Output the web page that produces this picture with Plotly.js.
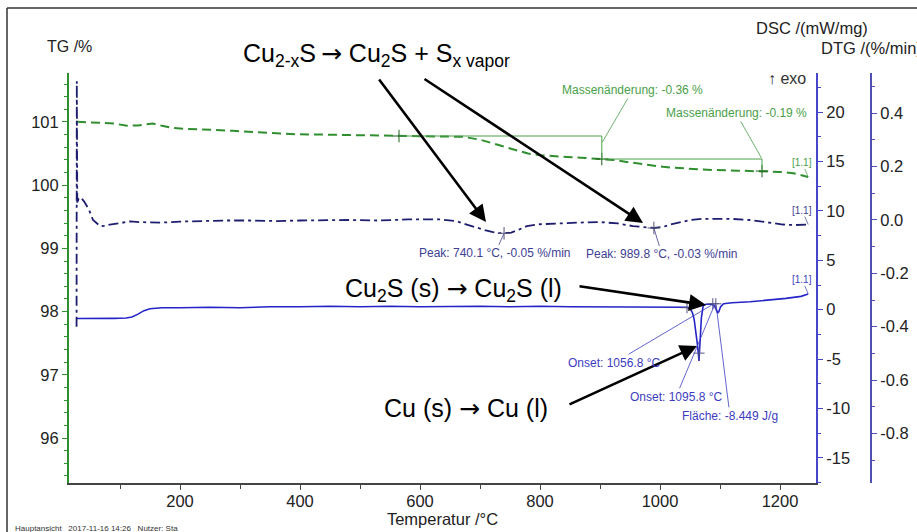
<!DOCTYPE html>
<html><head><meta charset="utf-8">
<script src="https://cdn.plot.ly/plotly-3.0.1.min.js"></script>
<style>html,body{margin:0;padding:0;background:#fff;} #chart{width:917px;height:532px;}</style>
</head><body><div id="chart"></div>
<script>
// ---------- data ----------
const temperatureTG = [28.3, 45, 66.7, 90, 111.7, 130, 145, 155, 170, 188, 210, 233, 260, 288, 315, 345, 370, 395, 440, 483, 525, 565, 610, 650, 672, 700, 728, 755, 780, 800, 825, 845, 875, 903, 922, 950, 978, 1005, 1033, 1060, 1088, 1130, 1170, 1200, 1222, 1247];
const tgValues = [101.005, 101.0, 100.99, 100.975, 100.94, 100.945, 100.965, 100.975, 100.94, 100.905, 100.89, 100.885, 100.875, 100.86, 100.85, 100.83, 100.815, 100.805, 100.8, 100.795, 100.79, 100.78, 100.78, 100.775, 100.765, 100.72, 100.64, 100.56, 100.5, 100.475, 100.455, 100.445, 100.43, 100.415, 100.4, 100.36, 100.32, 100.29, 100.27, 100.25, 100.24, 100.23, 100.225, 100.21, 100.19, 100.13];

const temperatureDTG = [27.6, 28.0, 28.8, 31, 34.5, 40, 48, 55, 62, 67, 75, 83, 100, 117, 133, 167, 200, 233, 275, 317, 360, 400, 450, 483, 530, 580, 633, 660, 678, 695, 708, 720, 730, 740, 752, 765, 778, 800, 845, 875, 900, 930, 955, 975, 990, 1005, 1017, 1035, 1050, 1070, 1095, 1120, 1150, 1180, 1205, 1225, 1247];
const dtgValues = [-0.40, 0.52, 0.06, 0.08, 0.085, 0.07, 0.04, 0.0, -0.015, -0.023, -0.022, -0.017, -0.012, -0.005, -0.008, -0.01, -0.006, -0.004, -0.002, -0.002, -0.004, -0.002, 0.0, 0.0, -0.002, 0.002, 0.002, -0.004, -0.017, -0.03, -0.038, -0.045, -0.049, -0.05, -0.047, -0.036, -0.023, -0.016, -0.011, -0.009, -0.008, -0.013, -0.023, -0.028, -0.03, -0.026, -0.017, -0.008, 0.0, 0.004, 0.005, 0.004, 0.0, -0.008, -0.017, -0.019, -0.017];

const temperatureDSC = [28.3, 50, 67, 90, 110, 120, 130, 140, 150, 170, 200, 250, 300, 350, 400, 450, 500, 550, 600, 650, 700, 750, 800, 850, 900, 950, 1000, 1030, 1045, 1050, 1054, 1057, 1060, 1062.5, 1065, 1067, 1069, 1072, 1076, 1085, 1090, 1093, 1096, 1098, 1101, 1106, 1120, 1150, 1180, 1210, 1235, 1247];
const dscValues = [-0.9, -0.92, -0.9, -0.88, -0.85, -0.75, -0.45, -0.1, 0.1, 0.2, 0.2, 0.25, 0.2, 0.3, 0.3, 0.35, 0.3, 0.35, 0.3, 0.35, 0.35, 0.3, 0.35, 0.3, 0.3, 0.3, 0.3, 0.3, 0.25, 0.1, -0.3, -1.0, -2.2, -3.6, -5.2, -3.2, -0.8, 0.4, 0.55, 0.55, 0.45, 0.1, -0.3, -0.2, 0.3, 0.6, 0.7, 0.8, 0.95, 1.15, 1.35, 1.6];

const xTicks = [200, 400, 600, 800, 1000, 1200];
const tgTicks = [96, 97, 98, 99, 100, 101];
const dscTicks = [-15, -10, -5, 0, 5, 10, 15, 20];
const dscTickText = ['-15', '-10', '-5', '0', '5', '10', '15', '20'];
const dtgTicks = [-0.8, -0.6, -0.4, -0.2, 0.0, 0.2, 0.4];
const dtgTickText = ['-0.8', '-0.6', '-0.4', '-0.2', '0.0', '0.2', '0.4'];

const massStepT = [565, 903, 1170];
const massStepTG = [100.778, 100.414, 100.224];
const massChangeText = ['-0.36', '-0.19'];
const dtgPeakT = [740.1, 989.8];
const dtgPeakVal = [-0.05, -0.03];
const dscOnsetT = ['1056.8', '1095.8'];
const dscAreaText = '-8.449';
const dscMarkT = [1045, 1065, 1088, 1093];
const dscMarkVal = [0.2, -4.4, 0.6, 0.6];

// ---------- styling ----------
const FONT = 'Liberation Sans, Arial, sans-serif';
const GREEN = '#2f8f2f', GREEN_L = '#4aa04a';
const BLUE = '#2424c8', BLUE_L = '#3c3cc0';
const NAVY = '#1e1e70', NAVY_L = '#3e3e94';
const W = 917, H = 532, L = 69, R = 40, T = 73, B = 49;
const PW = W - L - R, PH = H - T - B;
const px = x => (x - L) / PW;
const py = y => (H - B - y) / PH;
const ARROW = '<span style="font-family:DejaVu Sans">→</span>';

const traces = [
  {x: temperatureTG, y: tgValues, xaxis: 'x', yaxis: 'y', mode: 'lines', name: 'TG',
   line: {color: GREEN, width: 2, dash: '9px,5px'}},
  {x: temperatureDTG, y: dtgValues, xaxis: 'x', yaxis: 'y3', mode: 'lines', name: 'DTG',
   line: {color: NAVY, width: 1.8, dash: '10px,4px,3px,4px'}},
  {x: temperatureDSC, y: dscValues, xaxis: 'x', yaxis: 'y2', mode: 'lines', name: 'DSC',
   line: {color: BLUE, width: 1.6}},
  {x: massStepT, y: massStepTG, xaxis: 'x', yaxis: 'y', mode: 'markers', name: 'TG marks',
   marker: {symbol: 'cross-thin', size: 9, line: {color: '#1f5f1f', width: 1}}},
  {x: dtgPeakT, y: dtgPeakVal, xaxis: 'x', yaxis: 'y3', mode: 'markers', name: 'DTG peaks',
   marker: {symbol: 'cross-thin', size: 9, line: {color: '#555577', width: 1}}},
  {x: dscMarkT, y: dscMarkVal, xaxis: 'x', yaxis: 'y2', mode: 'markers', name: 'DSC marks',
   marker: {symbol: 'cross-thin', size: 8, line: {color: '#555588', width: 1}}}
];

const tickFont = {family: FONT, size: 16.5, color: '#222'};

const shapes = [
  {type: 'line', xref: 'paper', yref: 'paper', x0: px(7), x1: px(925), y0: py(8), y1: py(8), line: {color: '#333', width: 1.5}},
  {type: 'line', xref: 'paper', yref: 'paper', x0: px(7), x1: px(7), y0: py(8), y1: py(540), line: {color: '#333', width: 1.5}},
  {type: 'line', xref: 'x', yref: 'y', x0: massStepT[0], x1: massStepT[1], y0: massStepTG[0], y1: massStepTG[0], line: {color: GREEN_L, width: 1}},
  {type: 'line', xref: 'x', yref: 'y', x0: massStepT[1], x1: massStepT[1], y0: massStepTG[0], y1: massStepTG[1], line: {color: GREEN_L, width: 1}},
  {type: 'line', xref: 'x', yref: 'y', x0: massStepT[1], x1: massStepT[2], y0: massStepTG[1], y1: massStepTG[1], line: {color: GREEN_L, width: 1}},
  {type: 'line', xref: 'x', yref: 'y', x0: massStepT[2], x1: massStepT[2], y0: massStepTG[1], y1: massStepTG[2], line: {color: GREEN_L, width: 1}}
];

function bigArrow(tipX, tipY, tailX, tailY) {
  return {xref: 'paper', yref: 'paper', x: px(tipX), y: py(tipY), ax: tailX - tipX, ay: tailY - tipY,
    text: '', showarrow: true, arrowhead: 2, arrowsize: 1.3, arrowwidth: 2.6, arrowcolor: '#000', standoff: 0};
}
function lead(xv, yv, yref, ax, ay, text, color) {
  return {xref: 'x', yref: yref, x: xv, y: yv, ax: ax, ay: ay, text: text, showarrow: true,
    arrowhead: 0, arrowwidth: 0.8, arrowcolor: color, borderpad: 1, standoff: 1,
    font: {family: FONT, size: 12, color: color}};
}
function label(x, y, text, size, color, xanchor) {
  return {xref: 'paper', yref: 'paper', x: px(x), y: py(y), text: text, showarrow: false,
    xanchor: xanchor || 'left', yanchor: 'middle', font: {family: FONT, size: size, color: color}};
}

const annotations = [
  bigArrow(486, 222, 378, 78),
  bigArrow(643, 223, 423, 78),
  bigArrow(706, 305, 578, 286),
  bigArrow(697, 346, 568, 405),
  label(241, 55, 'Cu<sub>2-x</sub>S\u2009' + ARROW + ' Cu<sub>2</sub>S + S<sub>x vapor</sub>', 25, '#000'),
  label(343, 290, 'Cu<sub>2</sub>S (s) ' + ARROW + ' Cu<sub>2</sub>S (l)', 25, '#000'),
  label(382, 408, 'Cu (s) ' + ARROW + ' Cu (l)', 25, '#000'),
  lead(massStepT[1], 100.668, 'y', 31, -53, 'Massenänderung: ' + massChangeText[0] + ' %', GREEN_L),
  lead(massStepT[2], massStepTG[1], 'y', -26, -46, 'Massenänderung: ' + massChangeText[1] + ' %', GREEN_L),
  lead(dtgPeakT[0], dtgPeakVal[0], 'y3', -9, 20, 'Peak: ' + dtgPeakT[0] + ' °C, ' + dtgPeakVal[0].toFixed(2) + ' %/min', NAVY_L),
  lead(dtgPeakT[1], dtgPeakVal[1], 'y3', 8, 26.5, 'Peak: ' + dtgPeakT[1] + ' °C, ' + dtgPeakVal[1].toFixed(2) + ' %/min', NAVY_L),
  lead(1087, 0.5, 'y2', -98, 58, 'Onset: ' + dscOnsetT[0] + ' °C', BLUE_L),
  lead(1091.7, 0.6, 'y2', -39, 93, 'Onset: ' + dscOnsetT[1] + ' °C', BLUE_L),
  lead(1093.3, 0.6, 'y2', 14, 112, 'Fläche: ' + dscAreaText + ' J/g', BLUE_L),
  {xref: 'x', yref: 'y', x: temperatureTG[temperatureTG.length-1], y: tgValues[tgValues.length-1], ax: -6, ay: -14, text: '[1.1]', showarrow: true, arrowhead: 0, arrowwidth: 0.7, arrowcolor: GREEN_L, borderpad: 0, font: {family: FONT, size: 10, color: GREEN_L}},
  {xref: 'x', yref: 'y3', x: temperatureDTG[temperatureDTG.length-1], y: dtgValues[dtgValues.length-1], ax: -6, ay: -14, text: '[1.1]', showarrow: true, arrowhead: 0, arrowwidth: 0.7, arrowcolor: NAVY_L, borderpad: 0, font: {family: FONT, size: 10, color: NAVY_L}},
  {xref: 'x', yref: 'y2', x: temperatureDSC[temperatureDSC.length-1], y: dscValues[dscValues.length-1], ax: -6, ay: -14, text: '[1.1]', showarrow: true, arrowhead: 0, arrowwidth: 0.7, arrowcolor: BLUE_L, borderpad: 0, font: {family: FONT, size: 10, color: BLUE_L}},
  label(808, 78, '↑ exo', 16, '#333', 'right'),
  label(45, 47, 'TG /%', 16, '#222'),
  label(754, 28, 'DSC /(mW/mg)', 16.5, '#222'),
  label(819, 48, 'DTG /(%/min)', 16.5, '#222'),
  label(13, 528, 'Hauptansicht&nbsp;&nbsp;&nbsp;2017-11-16 14:26&nbsp;&nbsp;&nbsp;Nutzer: Sta', 8, '#333')
];

const layout = {
  width: W, height: H, showlegend: false,
  paper_bgcolor: '#fff', plot_bgcolor: 'rgba(0,0,0,0)',
  margin: {l: L, r: R, t: T, b: B, autoexpand: false},
  font: {family: FONT, color: '#222'},
  xaxis: {range: [15, 1260], domain: [0, 747 / PW], tickmode: 'array', tickvals: xTicks,
    ticks: 'outside', ticklen: 5, tickcolor: '#444', showline: true, linecolor: '#444', linewidth: 1.5,
    showgrid: false, zeroline: false, tickfont: tickFont, ticklabelstandoff: -3,
    minor: {dtick: 100, tick0: 0, ticks: 'outside', ticklen: 4, tickcolor: '#444', showgrid: false},
    title: {text: 'Temperatur /°C', font: {family: FONT, size: 16.5, color: '#222'}, standoff: 0}},
  yaxis: {range: [95.288, 101.775], tickmode: 'array', tickvals: tgTicks, ticks: 'outside', ticklen: 5,
    tickcolor: GREEN, showline: true, linecolor: GREEN, linewidth: 2, showgrid: false, zeroline: false,
    tickfont: tickFont, minor: {dtick: 0.2, tick0: 0, ticks: 'outside', ticklen: 3, tickcolor: GREEN, showgrid: false}},
  yaxis2: {range: [-17.56, 23.98], overlaying: 'y', side: 'right', anchor: 'x', tickmode: 'array',
    tickvals: dscTicks, ticktext: dscTickText, ticks: 'outside', ticklen: 5, tickcolor: '#4646c8',
    showline: true, linecolor: '#4646c8', linewidth: 2, showgrid: false, zeroline: false, tickfont: tickFont,
    minor: {dtick: 2.5, tick0: 0, ticks: 'outside', ticklen: 3, tickcolor: '#4646c8', showgrid: false}},
  yaxis3: {range: [-0.986, 0.551], overlaying: 'y', side: 'right', anchor: 'free', position: (871 - L) / PW,
    tickmode: 'array', tickvals: dtgTicks, ticktext: dtgTickText, ticks: 'outside', ticklen: 5,
    tickcolor: '#5050b0', showline: true, linecolor: '#5050b0', linewidth: 2, showgrid: false, zeroline: false,
    tickfont: tickFont, minor: {dtick: 0.1, tick0: 0, ticks: 'outside', ticklen: 3, tickcolor: '#5050b0', showgrid: false}},
  shapes: shapes,
  annotations: annotations
};

Plotly.newPlot('chart', traces, layout, {displayModeBar: false, responsive: false});
</script></body></html>
